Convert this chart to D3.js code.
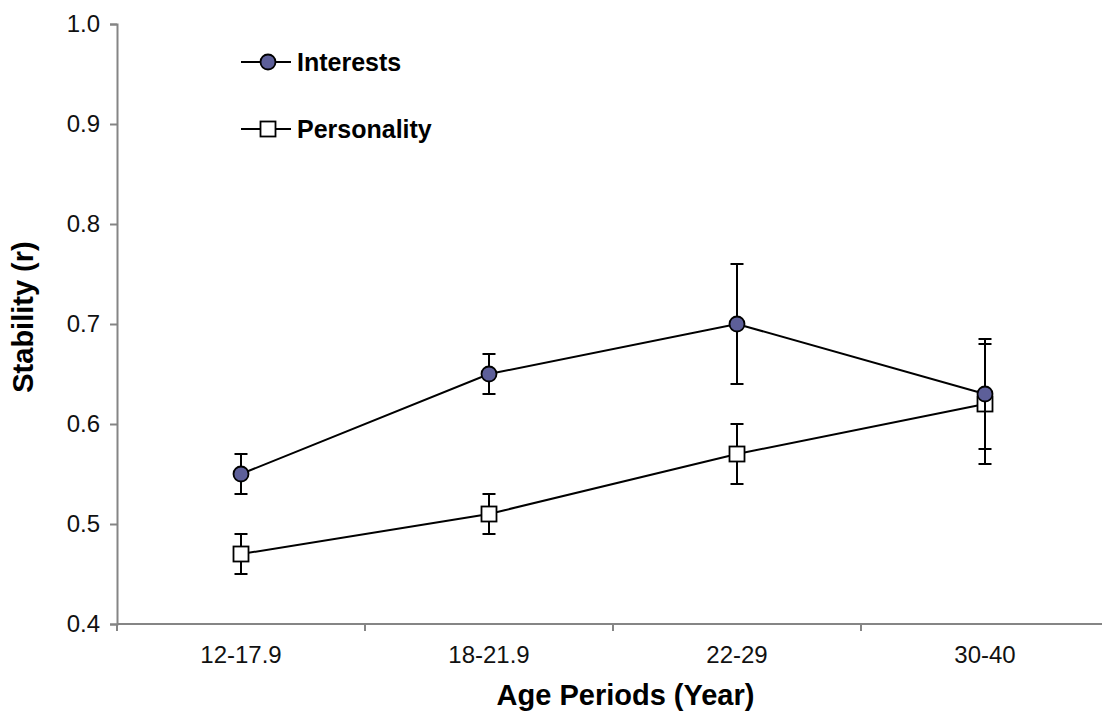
<!DOCTYPE html>
<html>
<head>
<meta charset="utf-8">
<script src="https://cdn.jsdelivr.net/npm/d3@7"></script>
<style>
  html, body { margin: 0; padding: 0; background: #fff; }
  svg { display: block; font-family: "Liberation Sans", Arial, sans-serif; }
</style>
</head>
<body>
<svg id="chart" width="1102" height="711"></svg>
<script>
const categories = ["12-17.9", "18-21.9", "22-29", "30-40"];
const interests = [0.55, 0.65, 0.70, 0.63];
const interestsErr = [0.02, 0.02, 0.06, 0.055];
const personality = [0.47, 0.51, 0.57, 0.62];
const personalityErr = [0.02, 0.02, 0.03, 0.06];
const yTicks = [0.4, 0.5, 0.6, 0.7, 0.8, 0.9, 1.0];
const seriesNames = ["Interests", "Personality"];

const svg = d3.select("#chart");
const mLeft = 117, mRight = 1109, mTop = 24, mBottom = 624;

const x = d3.scaleBand().domain(categories).range([mLeft, mRight]).padding(0);
const y = d3.scaleLinear().domain([0.4, 1.0]).range([mBottom, mTop]);
const cx = d => x(d) + x.bandwidth() / 2;

const axisColor = "#858585";

// Y axis
const yAxis = svg.append("g").attr("transform", `translate(${mLeft},0)`)
  .call(d3.axisLeft(y).tickValues(yTicks).tickFormat(d3.format(".1f")).tickSize(7).tickPadding(10));
yAxis.select(".domain").attr("stroke", axisColor).attr("stroke-width", 2);
yAxis.selectAll(".tick line").attr("stroke", axisColor).attr("stroke-width", 2);
yAxis.selectAll(".tick text").attr("font-size", 24).attr("fill", "#111")
  .attr("font-family", "Liberation Sans, Arial, sans-serif");

// X axis: labels at band centers, ticks at band edges
const xAxis = svg.append("g").attr("transform", `translate(0,${mBottom})`)
  .call(d3.axisBottom(x).tickSize(0).tickPadding(22));
xAxis.select(".domain").remove();
xAxis.selectAll(".tick text").attr("font-size", 24).attr("fill", "#111")
  .attr("font-family", "Liberation Sans, Arial, sans-serif");
svg.append("line").attr("x1", mLeft).attr("x2", mRight).attr("y1", mBottom).attr("y2", mBottom)
  .attr("stroke", axisColor).attr("stroke-width", 2);
const edges = categories.map(c => x(c)).concat([x(categories[categories.length - 1]) + x.bandwidth()]);
svg.selectAll(".xedge").data(edges).enter().append("line")
  .attr("x1", d => d).attr("x2", d => d).attr("y1", mBottom).attr("y2", mBottom + 7)
  .attr("stroke", axisColor).attr("stroke-width", 2);

// Axis titles
svg.append("text").attr("x", 625.5).attr("y", 705).attr("text-anchor", "middle")
  .attr("font-size", 29).attr("font-weight", "bold").attr("fill", "#000").text("Age Periods (Year)");
svg.append("text").attr("transform", `translate(33,317) rotate(-90)`).attr("text-anchor", "middle")
  .attr("font-size", 29).attr("font-weight", "bold").attr("fill", "#000").text("Stability (r)");

const line = d3.line().x((d, i) => cx(categories[i])).y(d => y(d));

function drawSeries(vals, errs, marker) {
  const g = svg.append("g");
  g.append("path").datum(vals).attr("d", line).attr("fill", "none").attr("stroke", "#000").attr("stroke-width", 2);
  const cap = 6.5;
  vals.forEach((v, i) => {
    const xx = cx(categories[i]);
    const y1 = y(v + errs[i]), y0 = y(v - errs[i]);
    g.append("line").attr("x1", xx).attr("x2", xx).attr("y1", y1).attr("y2", y0).attr("stroke", "#000").attr("stroke-width", 2);
    g.append("line").attr("x1", xx - cap).attr("x2", xx + cap).attr("y1", y1).attr("y2", y1).attr("stroke", "#000").attr("stroke-width", 2);
    g.append("line").attr("x1", xx - cap).attr("x2", xx + cap).attr("y1", y0).attr("y2", y0).attr("stroke", "#000").attr("stroke-width", 2);
  });
  vals.forEach((v, i) => marker(g, cx(categories[i]), y(v)));
}

const circleMarker = (g, px, py) => g.append("circle").attr("cx", px).attr("cy", py).attr("r", 7.5)
  .attr("fill", "#5d5f99").attr("stroke", "#000").attr("stroke-width", 1.8);
const squareMarker = (g, px, py) => g.append("rect").attr("x", px - 7.5).attr("y", py - 7.5)
  .attr("width", 15).attr("height", 15).attr("fill", "#fff").attr("stroke", "#000").attr("stroke-width", 1.8);

drawSeries(personality, personalityErr, squareMarker);
drawSeries(interests, interestsErr, circleMarker);

// Legend
const legY = [62, 129];
const markers = [circleMarker, squareMarker];
seriesNames.forEach((name, i) => {
  const g = svg.append("g");
  g.append("line").attr("x1", 241).attr("x2", 291).attr("y1", legY[i]).attr("y2", legY[i]).attr("stroke", "#000").attr("stroke-width", 2);
  markers[i](g, 268, legY[i]);
  g.append("text").attr("x", 297).attr("y", legY[i] + 9).attr("font-size", 25).attr("font-weight", "bold")
    .attr("fill", "#000").text(name);
});
</script>
</body>
</html>
